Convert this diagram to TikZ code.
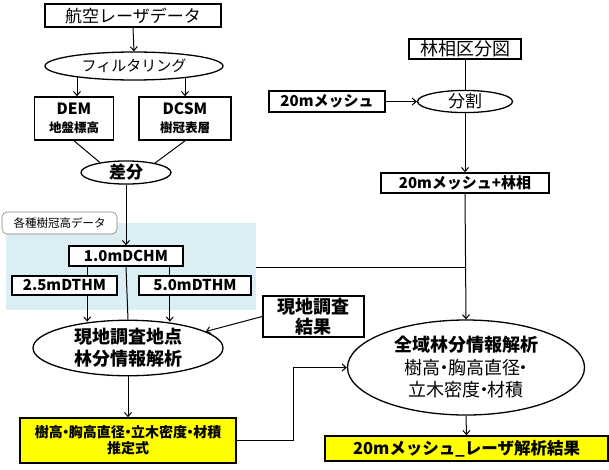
\documentclass[tikz,border=0pt]{standalone}
\usepackage{fontspec}
\setmainfont{Noto Sans CJK JP}
\usetikzlibrary{shapes.geometric,arrows.meta,calc}
\pgfdeclarelayer{bg}
\pgfdeclarelayer{conn}
\pgfsetlayers{bg,conn,main}
\definecolor{lblue}{RGB}{219,238,243}
\definecolor{yel}{RGB}{255,255,0}
\newcommand{\nd}{\kern-0.28em・\kern-0.28em}
\tikzset{
  box/.style={draw, line width=1.6pt, fill=white, inner sep=0pt, align=center},
  ell/.style={ellipse, draw, line width=1.3pt, fill=white, inner sep=0pt, align=center},
  ybox/.style={box, fill=yel},
  conn/.style={draw, line width=1pt},
  arr/.style={conn, -{Straight Barb[length=4pt,width=7pt]}},
}
\begin{document}
\begin{tikzpicture}[x=1pt,y=-1pt]
\useasboundingbox (0,0) rectangle (609,469);
% background
\begin{pgfonlayer}{bg}
\node[fill=lblue, minimum width=250pt, minimum height=87pt, inner sep=0pt] (blue) at (131,266.5) {};
\end{pgfonlayer}
\node[draw=gray, fill=white, rounded corners=5pt, line width=0.6pt, minimum width=115pt, minimum height=22pt, inner sep=0pt, font=\fontsize{11.5}{13}\selectfont] (lab) at (59.5,223) {各種樹冠高データ};
% left column
\node[box, minimum width=176pt, minimum height=23pt, font=\fontsize{17}{19}\selectfont] (koku) at (133,15.5) {航空レーザデータ};
\node[ell, minimum width=178pt, minimum height=28pt, font=\fontsize{15}{17}\selectfont] (filt) at (134,66) {フィルタリング};
\node[box, minimum width=79pt, minimum height=43pt, font=\fontsize{12.5}{18}\selectfont\bfseries] (dem) at (74,118.5) {{\fontsize{15.5}{17}\selectfont DEM}\\地盤標高};
\node[box, minimum width=92pt, minimum height=43pt, font=\fontsize{12.5}{18}\selectfont\bfseries] (dcsm) at (185,118.5) {{\fontsize{15.5}{17}\selectfont DCSM}\\樹冠表層};
\node[ell, minimum width=90pt, minimum height=21pt, font=\fontsize{17}{19}\selectfont\bfseries] (sabun) at (126,172.5) {差分};
\node[box, minimum width=114pt, minimum height=20pt, font=\fontsize{15}{17}\selectfont\bfseries] (dchm) at (126,256) {1.0mDCHM};
\node[box, minimum width=105pt, minimum height=19pt, font=\fontsize{15}{17}\selectfont\bfseries] (d25) at (64.5,285.5) {2.5mDTHM};
\node[box, minimum width=112pt, minimum height=19pt, font=\fontsize{15}{17}\selectfont\bfseries] (d50) at (195,285.5) {5.0mDTHM};
\node[ell, minimum width=190pt, minimum height=52pt, font=\fontsize{18}{22}\selectfont\bfseries] (genchi) at (128,348) {現地調査地点\\林分情報解析};
\node[box, minimum width=101pt, minimum height=41pt, font=\fontsize{18}{20}\selectfont\bfseries] (kekka) at (313.5,316.5) {現地調査\\結果};
\node[ybox, minimum width=216pt, minimum height=45pt, font=\fontsize{14}{16}\selectfont\bfseries] (suitei) at (128,440.5) {樹高\nd 胸高直径\nd 立木密度\nd 材積\\推定式};
% right column
\node[box, minimum width=112pt, minimum height=20pt, font=\fontsize{18}{20}\selectfont] (rinso) at (465,49) {林相区分図};
\node[ell, minimum width=95pt, minimum height=21pt, font=\fontsize{17}{19}\selectfont] (bunk) at (465,101.5) {分割};
\node[box, minimum width=116pt, minimum height=21pt, font=\fontsize{15}{17}\selectfont\bfseries] (mesh) at (327,101.5) {20mメッシュ};
\node[box, minimum width=168pt, minimum height=20pt, font=\fontsize{15}{17}\selectfont\bfseries] (meshr) at (465,183) {20mメッシュ+林相};
\node[ell, minimum width=237pt, minimum height=95pt, font=\fontsize{18}{22.5}\selectfont] (zeniki) at (466,367.5) {{\bfseries 全域林分情報解析}\\樹高\nd 胸高直径\nd\\立木密度\nd 材積};
\node[ybox, minimum width=283pt, minimum height=25pt, font=\fontsize{16.5}{19}\selectfont\bfseries] (result) at (466.5,448.5) {20mメッシュ\_レーザ解析結果};
% connectors
\begin{pgfonlayer}{conn}
\draw[arr] (koku.south) -- (filt.north);
\draw[arr] ($(dem.north |- filt.center)+(3,0)$) -- ($(dem.north)+(3,0)$);
\draw[arr] (dcsm.north |- filt.center) -- (dcsm.north);
\draw[conn] (dem.south) -- (sabun.159);
\draw[conn] (dcsm.south) -- (sabun.18);
\draw[arr] (sabun.south) -- (dchm.north);
\draw[conn] ($(dchm.south west)+(19,0)$) coordinate (pa) -- (pa |- d25.north);
\draw[conn] ($(dchm.south east)+(-14,0)$) coordinate (pb) -- (pb |- d50.north);
\draw[arr] (pa |- d25.south) -- ($(pa |- genchi.north)+(0,2)$);
\draw[arr] (pb |- d50.south) -- ($(pb |- genchi.north)+(0,2)$);
\draw[conn] (dchm.south) -- (genchi.north);
\draw[arr] (kekka.west) -- (genchi.12);
\draw[arr] (genchi.south) -- (suitei.north);
\draw[arr] (suitei.east) -- ++(57,0) |- (zeniki.west);
\draw[conn] (rinso.south) -- (bunk.north);
\draw[arr] (mesh.east) -- (bunk.west);
\draw[arr] (bunk.south) -- (meshr.north);
\draw[arr] (meshr.south) -- (zeniki.north);
\draw[conn] ($(blue.east |- dchm.south)+(0,1)$) -- ($(zeniki.north |- dchm.south)+(0,1)$);
\draw[arr] (zeniki.south) -- (result.north);
\end{pgfonlayer}
\end{tikzpicture}
\end{document}
